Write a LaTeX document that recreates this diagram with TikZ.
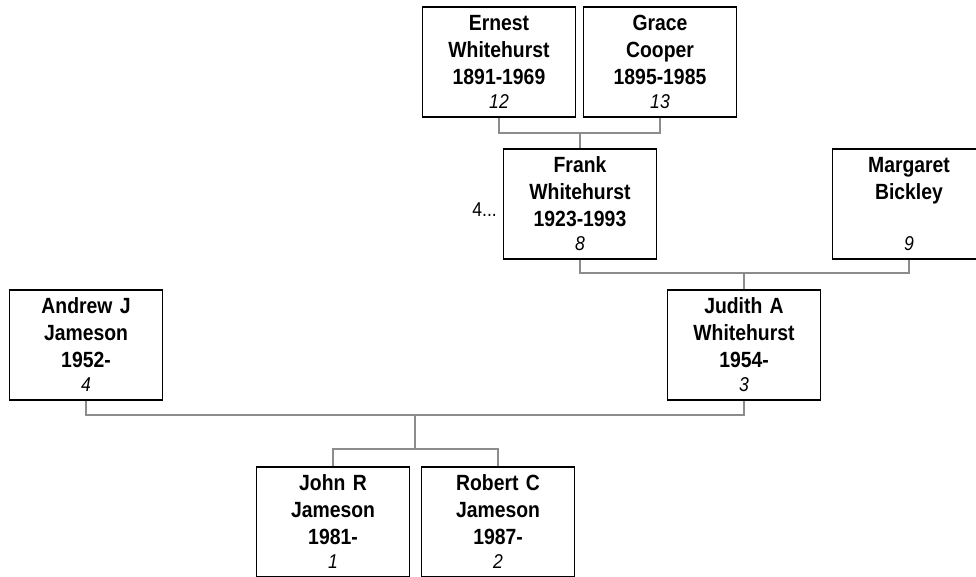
\documentclass[tikz,border=0pt]{standalone}
\usepackage{fontspec}
\setmainfont[FakeStretch=0.88]{Liberation Sans}
\definecolor{linegray}{RGB}{140,140,140}
\tikzset{
  person/.style={draw=black, line width=1.6pt, fill=white, minimum width=153pt, minimum height=110pt, inner sep=0pt, anchor=north},
  pname/.style={font=\fontsize{22}{27}\selectfont\bfseries, align=center, text width=150pt, inner sep=0pt, anchor=base},
  pnum/.style={font=\fontsize{20}{22}\selectfont\itshape, inner sep=0pt, anchor=base},
  conn/.style={draw=linegray, line width=1.6pt},
  more/.style={font=\fontsize{20}{22}\selectfont, inner sep=0pt, anchor=base east}
}
\begin{document}
\begin{tikzpicture}[x=1pt,y=-1pt]
\useasboundingbox (0,0) rectangle (976,576);
\clip (0,0) rectangle (976,576);
% connector junctions
\coordinate (j1) at (580,133);
\coordinate (j2) at (744,273);
\coordinate (j3) at (415,415);
\coordinate (j4) at (415,449);
% boxes
\node[person] (ernest) at (499,6) {};
\node[person] (grace) at (660,6) {};
\node[person] (frank) at (580,148) {};
\node[person] (margaret) at (909,148) {};
\node[person] (andrew) at (86,289) {};
\node[person] (judith) at (744,289) {};
\node[person] (john) at (333,466) {};
\node[person] (robert) at (498,466) {};
% connectors
\draw[conn] (ernest.south) |- (j1) -| (grace.south);
\draw[conn] (j1) -- (frank.north);
\draw[conn] (frank.south) |- (j2) -| (margaret.south);
\draw[conn] (j2) -- (judith.north);
\draw[conn] (andrew.south) |- (j3) -| (judith.south);
\draw[conn] (j3) -- (j4);
\draw[conn] (john.north) |- (j4) -| (robert.north);
% names
\node[pname] (ernestT) at (499,30) {Ernest\\Whitehurst\\1891-1969};
\node[pnum] (ernestN) at (499,108) {12};
\node[pname] (graceT) at (660,30) {Grace\\Cooper\\1895-1985};
\node[pnum] (graceN) at (660,108) {13};
\node[pname] (frankT) at (580,172) {Frank\\Whitehurst\\1923-1993};
\node[pnum] (frankN) at (580,250) {8};
\node[more] (frankMore) at (497,216) {4...};
\node[pname] (margaretT) at (909,172) {Margaret\\Bickley};
\node[pnum] (margaretN) at (909,250) {9};
\node[pname] (andrewT) at (86,313) {Andrew J\\Jameson\\1952-};
\node[pnum] (andrewN) at (86,391) {4};
\node[pname] (judithT) at (744,313) {Judith A\\Whitehurst\\1954-};
\node[pnum] (judithN) at (744,391) {3};
\node[pname] (johnT) at (333,490) {John R\\Jameson\\1981-};
\node[pnum] (johnN) at (333,568) {1};
\node[pname] (robertT) at (498,490) {Robert C\\Jameson\\1987-};
\node[pnum] (robertN) at (498,568) {2};
\end{tikzpicture}
\end{document}
